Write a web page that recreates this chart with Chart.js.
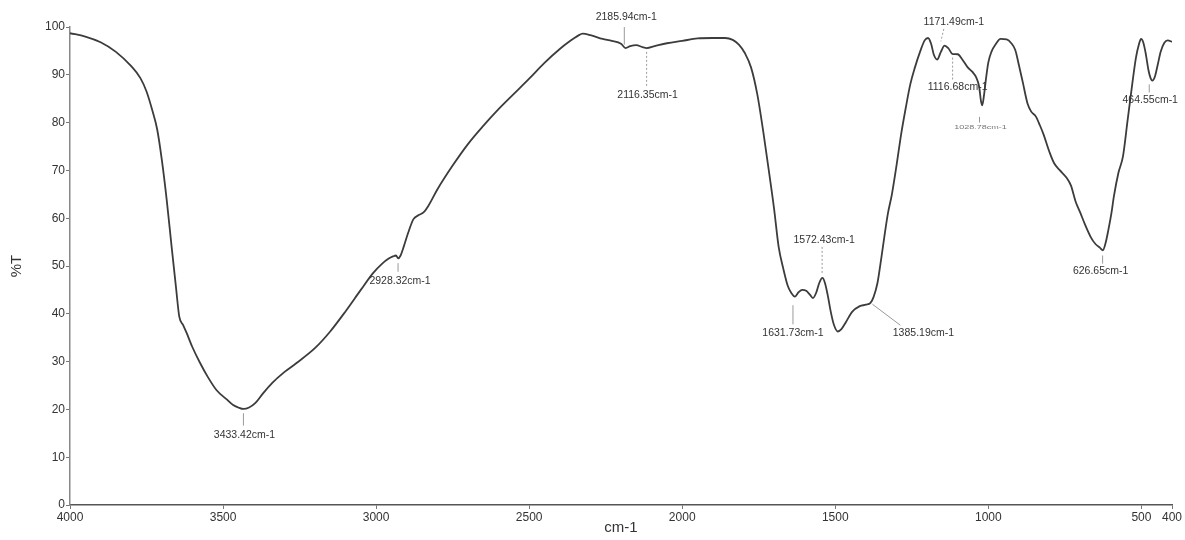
<!DOCTYPE html>
<html>
<head>
<meta charset="utf-8">
<script src="https://cdn.jsdelivr.net/npm/chart.js@4.4.1/dist/chart.umd.min.js"></script>
<style>
  html, body { margin: 0; padding: 0; background: #fff; }
  canvas { display: block; }
</style>
</head>
<body>
<canvas id="ftir-chart" width="1185" height="540"></canvas>
<script>
// FTIR spectrum, wavenumber (cm-1) vs %T

const wavenumbers = [
  4000, 3950, 3900, 3850, 3800, 3770, 3750, 3730, 3715, 3700, 3684, 3668, 3654, 3643, 3630, 3619,
  3600, 3575, 3550, 3521, 3490, 3467, 3450, 3433, 3415, 3395, 3370, 3340, 3300, 3260,
  3200, 3150, 3100, 3050, 3010, 2980, 2960, 2945, 2935, 2928, 2920, 2910, 2895, 2878, 2862, 2845,
  2830, 2800, 2750, 2700, 2650, 2600, 2550, 2500, 2450, 2400, 2370, 2340, 2325, 2300, 2260, 2230,
  2200, 2185, 2170, 2150, 2130, 2116, 2090, 2050, 2000, 1950, 1900, 1860, 1835, 1815, 1795, 1775,
  1755, 1735, 1715, 1700, 1685, 1670, 1655, 1645, 1632, 1620, 1608, 1595, 1583, 1573, 1563, 1552,
  1542, 1534, 1525, 1515, 1505, 1492, 1480, 1465, 1445, 1420, 1400, 1385, 1375, 1362, 1350, 1340,
  1328, 1315, 1300, 1285, 1270, 1255, 1240, 1222, 1208, 1197, 1187, 1178, 1167, 1155, 1143, 1130,
  1118, 1100, 1085, 1068, 1052, 1040, 1030, 1024, 1020, 1014, 1008, 1000, 990, 975, 960, 940,
  925, 912, 900, 887, 872, 860, 845, 832, 820, 800, 785, 766, 745, 730, 715, 700,
  685, 665, 650, 635, 626, 617, 608, 598, 590, 575, 560, 545, 530, 518, 508, 501,
  494, 486, 477, 470, 464, 456, 447, 437, 425, 414, 400
];

const transmittance = [
  98.7, 98.0, 96.8, 94.8, 91.8, 89.3, 86.5, 82.3, 78.5, 72.2, 63.8, 54.0, 45.7, 39.4, 37.6, 36.0,
  33.0, 29.7, 26.8, 24.0, 22.2, 20.9, 20.4, 20.1, 20.4, 21.3, 23.3, 25.5, 27.8, 29.7,
  32.8, 36.3, 40.5, 45.0, 48.5, 50.5, 51.5, 52.0, 52.2, 51.6, 52.2, 54.0, 57.0, 59.8, 60.6, 61.2,
  62.5, 66.0, 71.0, 75.5, 79.3, 82.8, 86.0, 89.2, 92.5, 95.4, 96.9, 98.2, 98.6, 98.3, 97.5, 97.1,
  96.5, 95.6, 96.0, 96.2, 95.8, 95.6, 96.0, 96.6, 97.1, 97.6, 97.7, 97.7, 97.3, 96.3, 94.5, 91.5,
  86.0, 78.0, 69.0, 62.0, 54.0, 49.5, 45.8, 44.5, 43.6, 44.5, 45.0, 44.8, 44.0, 43.3, 44.3, 46.5,
  47.5, 46.5, 44.0, 40.5, 37.8, 36.3, 36.8, 38.3, 40.4, 41.6, 41.9, 42.3, 43.5, 46.5, 51.5, 56.0,
  61.0, 65.0, 71.0, 77.5, 83.0, 88.0, 91.5, 95.0, 97.2, 97.7, 96.5, 94.2, 93.2, 94.8, 96.1, 95.5,
  94.4, 94.3, 93.2, 91.6, 90.6, 89.5, 87.5, 84.5, 83.6, 85.8, 89.0, 92.6, 94.8, 96.5, 97.5, 97.4,
  96.6, 95.2, 92.0, 88.3, 84.0, 82.3, 81.3, 79.5, 77.6, 73.8, 71.5, 70.0, 68.5, 66.8, 63.5, 61.2,
  58.8, 56.0, 54.6, 53.8, 53.3, 54.8, 57.5, 61.0, 64.5, 69.5, 73.0, 80.5, 88.0, 93.5, 96.4, 97.5,
  96.8, 94.5, 91.0, 89.3, 88.8, 89.6, 92.0, 94.8, 96.7, 97.2, 96.9
];

const xTicks = [4000, 3500, 3000, 2500, 2000, 1500, 1000, 500, 400];

const peakWavenumbers = [3433.42, 2928.32, 2185.94, 2116.35, 1631.73, 1572.43, 1385.19, 1171.49, 1116.68, 1028.78, 626.65, 464.55];
const peakLabels = ['3433.42cm-1', '2928.32cm-1', '2185.94cm-1', '2116.35cm-1', '1631.73cm-1', '1572.43cm-1',
  '1385.19cm-1', '1171.49cm-1', '1116.68cm-1', '1028.78cm-1', '626.65cm-1', '464.55cm-1'];

// label placement: text offset (px) from the peak, text %T, leader line (px offsets / %T)
const labelLayout = [
  { dx: 1,  ty: 14.6, lx1: 0,  ly1: 19.2, lx2: 0,  ly2: 16.6 },
  { dx: 2,  ty: 46.9, lx1: 0,  ly1: 50.6, lx2: 0,  ly2: 48.8 },
  { dx: 1,  ty: 102.0, lx1: -1, ly1: 100.0, lx2: -1, ly2: 96.3 },
  { dx: 1,  ty: 85.8, lx1: 0,  ly1: 94.8, lx2: 0,  ly2: 87.4, dash: true },
  { dx: -2, ty: 36.0, lx1: -2, ly1: 41.8, lx2: -2, ly2: 37.8 },
  { dx: 11, ty: 55.4, lx1: 9,  ly1: 54.0, lx2: 9,  ly2: 48.5, dash: true },
  { dx: 53, ty: 36.0, lx1: 2,  ly1: 42.0, lx2: 30, ly2: 37.6 },
  { dx: 18, ty: 101.0, lx1: 8, ly1: 99.6, lx2: 5,  ly2: 97.0, dash: true },
  { dx: 5,  ty: 87.4, lx1: 0,  ly1: 93.6, lx2: 0,  ly2: 89.0, dash: true },
  { dx: 1,  ty: 79.0, lx1: 0,  ly1: 81.2, lx2: 0,  ly2: 80.0, small: true },
  { dx: -2, ty: 49.0, lx1: 0,  ly1: 52.2, lx2: 0,  ly2: 50.5 },
  { dx: -2, ty: 84.7, lx1: -3, ly1: 88.0, lx2: -3, ly2: 86.3 }
];

const peakLabelPlugin = {
  id: 'peakLabels',
  afterDatasetsDraw(chart) {
    const { ctx, scales: { x, y } } = chart;
    ctx.save();
    peakWavenumbers.forEach((wn, i) => {
      const l = labelLayout[i];
      const px = x.getPixelForValue(wn);
      ctx.strokeStyle = '#9a9a9a';
      ctx.lineWidth = 1;
      ctx.setLineDash(l.dash ? [2, 2] : []);
      ctx.beginPath();
      ctx.moveTo(px + l.lx1, y.getPixelForValue(l.ly1));
      ctx.lineTo(px + l.lx2, y.getPixelForValue(l.ly2));
      ctx.stroke();
      ctx.setLineDash([]);
      ctx.textAlign = 'center';
      ctx.textBaseline = 'middle';
      if (l.small) {
        // squashed, faint label as in the scan
        ctx.save();
        ctx.translate(px + l.dx, y.getPixelForValue(l.ty));
        ctx.scale(1.5, 1);
        ctx.fillStyle = '#777';
        ctx.font = '6px "Liberation Sans", Arial, sans-serif';
        ctx.fillText(peakLabels[i], 0, 0);
        ctx.restore();
      } else {
        ctx.fillStyle = '#333';
        ctx.font = '10.5px "Liberation Sans", Arial, sans-serif';
        ctx.fillText(peakLabels[i], px + l.dx, y.getPixelForValue(l.ty));
      }
    });
    ctx.restore();
  }
};

const ctx = document.getElementById('ftir-chart').getContext('2d');

new Chart(ctx, {
  type: 'line',
  data: {
    datasets: [{
      label: '%T',
      data: wavenumbers.map((w, i) => ({ x: w, y: transmittance[i] })),
      borderColor: '#3c3c3c',
      borderWidth: 1.8,
      pointRadius: 0,
      cubicInterpolationMode: 'monotone',
      fill: false
    }]
  },
  options: {
    responsive: false,
    animation: false,
    layout: { padding: { top: 27, right: 13, left: 0, bottom: 0 } },
    plugins: {
      legend: { display: false },
      tooltip: { enabled: false }
    },
    scales: {
      x: {
        type: 'linear',
        reverse: true,
        min: 400,
        max: 4000,
        afterBuildTicks: scale => { scale.ticks = xTicks.map(v => ({ value: v })); },
        afterFit: scale => { scale.height = 35; },
        grid: { drawOnChartArea: false, tickLength: 4, color: '#777' },
        border: { color: '#555', width: 1.5 },
        ticks: {
          autoSkip: false,
          maxRotation: 0,
          padding: 1,
          color: '#333',
          callback: v => String(v),
          font: { family: '"Liberation Sans", Arial, sans-serif', size: 12 }
        },
        title: {
          display: true,
          text: 'cm-1',
          color: '#333',
          padding: { top: 0, bottom: 3 },
          font: { family: '"Liberation Sans", Arial, sans-serif', size: 15 }
        }
      },
      y: {
        min: 0,
        max: 100,
        afterFit: scale => { scale.width = 70; },
        grid: { drawOnChartArea: false, tickLength: 4, color: '#777' },
        border: { color: '#888', width: 1.5 },
        ticks: {
          stepSize: 10,
          padding: 1,
          color: '#333',
          callback: v => String(v),
          font: { family: '"Liberation Sans", Arial, sans-serif', size: 12 }
        },
        title: {
          display: true,
          text: '%T',
          color: '#333',
          padding: { top: 8, bottom: 0 },
          font: { family: '"Liberation Sans", Arial, sans-serif', size: 15 }
        }
      }
    }
  },
  plugins: [peakLabelPlugin]
});
</script>
</body>
</html>
